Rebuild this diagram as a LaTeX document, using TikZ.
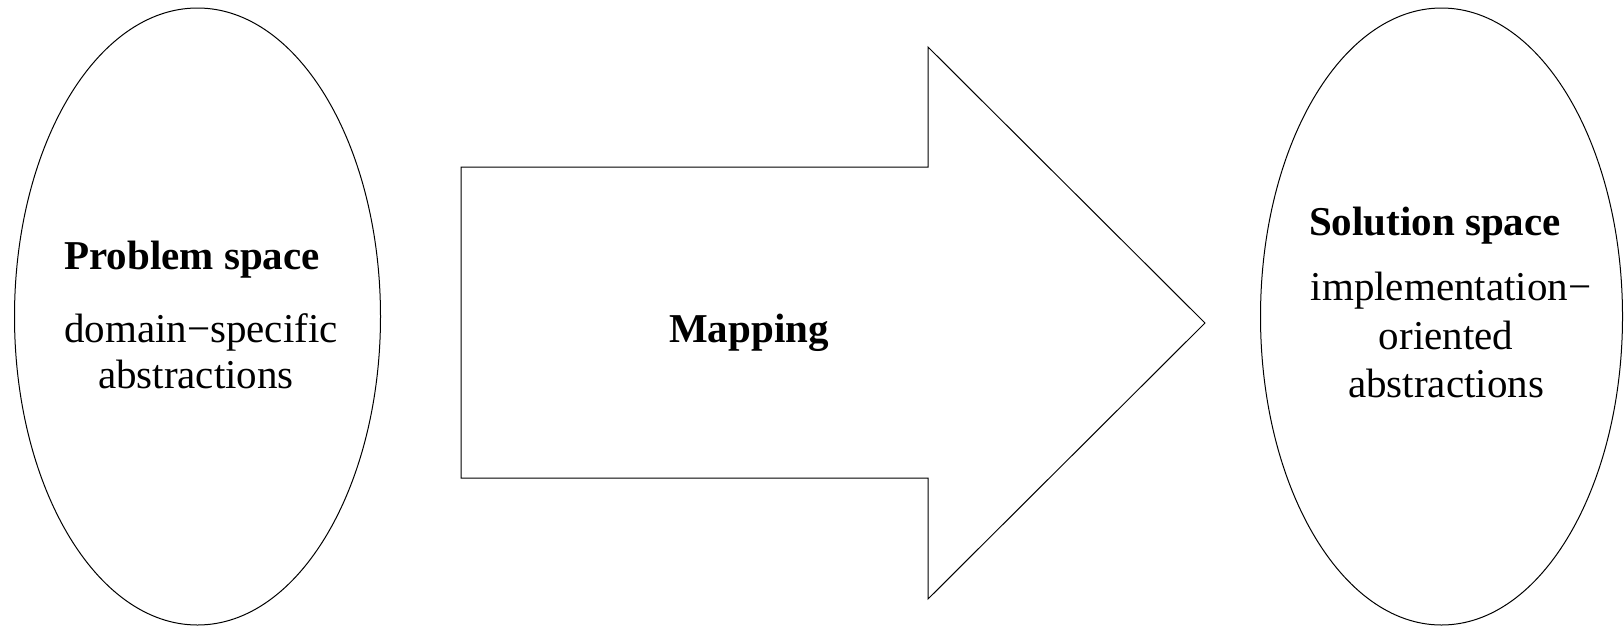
\documentclass[tikz,border=0pt]{standalone}
\usepackage{fontspec}
\setmainfont{Liberation Serif}
\usetikzlibrary{shapes.geometric}
\begin{document}
\begin{tikzpicture}[x=1pt,y=-1pt,
  oval/.style={draw,ellipse,line width=1pt,inner sep=0pt},
  ttl/.style={anchor=base,inner sep=0pt,font=\fontsize{41}{46}\selectfont\bfseries},
  txt/.style={anchor=base,inner sep=0pt,font=\fontsize{41}{46}\selectfont}]
\useasboundingbox (0,0) rectangle (1624,627);
\node[oval,minimum width=366pt,minimum height=617pt] (ps) at (197.5,316.5) {};
\node[oval,minimum width=362pt,minimum height=617pt] (ss) at (1441.5,316.5) {};
\draw[line width=1pt,line join=miter]
  (461,167) -- (928,167) -- (928,47) -- (1205,323) -- (928,599) -- (928,478) -- (461,478) -- cycle;
\node[ttl] (pt) at (192,269) {Problem space};
\node[txt] (p1) at (201,342) {domain−specific};
\node[txt] (p2) at (196,388) {abstractions};
\node[ttl] (mp) at (749,342) {Mapping};
\node[ttl] (st) at (1435,235) {Solution space};
\node[txt] (s1) at (1451,300) {implementation−};
\node[txt] (s2) at (1446,349) {oriented};
\node[txt] (s3) at (1446,397) {abstractions};
\end{tikzpicture}
\end{document}
